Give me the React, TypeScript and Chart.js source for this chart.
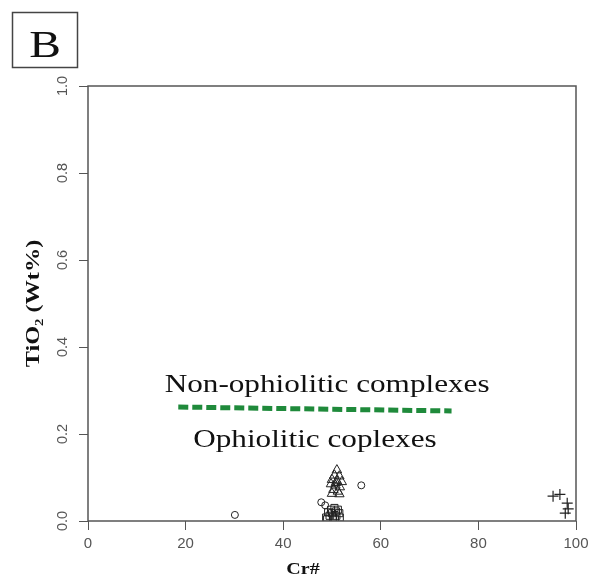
import React, { useEffect, useRef } from "react";
import { Chart, registerables } from "chart.js";

Chart.register(...registerables);

// Axis ticks
const xTicks = [0, 20, 40, 60, 80, 100];
const yTicks = [0, 0.2, 0.4, 0.6, 0.8, 1.0];

// Open circles
const circleX = [30.1, 47.8, 48.6, 56.0];
const circleY = [0.014, 0.043, 0.036, 0.082];

// Open triangles
const triangleX = [51.0, 50.5, 51.5, 50.0, 51.0, 52.0, 49.8, 50.7, 51.6, 50.3, 51.2, 50.0, 51.5, 50.8];
const triangleY = [0.117, 0.105, 0.103, 0.095, 0.092, 0.09, 0.085, 0.082, 0.078, 0.072, 0.068, 0.063, 0.062, 0.088];

// Open squares
const squareX = [48.8, 49.5, 50.2, 50.9, 51.6, 49.2, 50.0, 50.8, 51.5, 49.8, 50.5, 51.2, 49.0, 50.6];
const squareY = [0.008, 0.012, 0.008, 0.012, 0.008, 0.02, 0.018, 0.022, 0.018, 0.026, 0.03, 0.026, 0.004, 0.005];

// Crosses
const crossX = [95.3, 96.7, 98.2, 98.4, 97.8];
const crossY = [0.057, 0.061, 0.041, 0.028, 0.018];

// Boundary line
const boundaryX = [18.5, 74.5];
const boundaryY = [0.262, 0.253];

// Field labels (x centre, y baseline)
const fieldLabels = ["Non-ophiolitic complexes", "Ophiolitic coplexes"];
const fieldLabelX = [49.0, 46.5];
const fieldLabelY = [0.297, 0.17];

const xTitle = "Cr#";
const yTitle = "TiO\u2082 (Wt%)";
const panelLetter = "B";

const pts = (xs: number[], ys: number[]) => xs.map((x, i) => ({ x, y: ys[i] }));

function stretchText(
  ctx: CanvasRenderingContext2D,
  text: string,
  x: number,
  y: number,
  sx: number,
  rot = 0
) {
  ctx.save();
  ctx.translate(x, y);
  if (rot) ctx.rotate(rot);
  ctx.scale(sx, 1);
  ctx.fillText(text, 0, 0);
  ctx.restore();
}

const decorPlugin = {
  id: "decor",
  afterDraw(chart: any) {
    const { ctx, chartArea, scales } = chart;
    const xs = scales.x;
    const ys = scales.y;
    ctx.save();
    // plot box
    ctx.strokeStyle = "#555";
    ctx.lineWidth = 1.5;
    ctx.strokeRect(chartArea.left, chartArea.top, chartArea.right - chartArea.left, chartArea.bottom - chartArea.top);

    // y tick labels (rotated)
    ctx.fillStyle = "#555";
    ctx.font = "14.5px 'Liberation Sans', Arial, sans-serif";
    ctx.textAlign = "center";
    ctx.textBaseline = "middle";
    yTicks.forEach((v) => {
      const py = ys.getPixelForValue(v);
      ctx.save();
      ctx.translate(chartArea.left - 25, py);
      ctx.rotate(-Math.PI / 2);
      ctx.fillText(v.toFixed(1), 0, 0);
      ctx.restore();
    });

    // axis titles
    ctx.fillStyle = "#111";
    ctx.font = "bold 18px 'Liberation Serif', 'Times New Roman', serif";
    ctx.textAlign = "center";
    ctx.textBaseline = "middle";
    stretchText(ctx, yTitle, 34, (chartArea.top + chartArea.bottom) / 2, 1.35, -Math.PI / 2);
    ctx.font = "bold 16px 'Liberation Serif', 'Times New Roman', serif";
    ctx.textBaseline = "alphabetic";
    stretchText(ctx, xTitle, 303, 574, 1.25);

    // field labels
    ctx.font = "26px 'Liberation Serif', 'Times New Roman', serif";
    ctx.textAlign = "center";
    ctx.textBaseline = "alphabetic";
    fieldLabels.forEach((t, i) => {
      stretchText(ctx, t, xs.getPixelForValue(fieldLabelX[i]), ys.getPixelForValue(fieldLabelY[i]), 1.2);
    });

    // panel letter
    ctx.strokeStyle = "#444";
    ctx.lineWidth = 1.5;
    ctx.strokeRect(12.5, 12.5, 65, 55);
    ctx.font = "38px 'Liberation Serif', 'Times New Roman', serif";
    ctx.textAlign = "center";
    stretchText(ctx, panelLetter, 45, 57, 1.25);
    ctx.restore();
  },
};

export default function App() {
  const ref = useRef<HTMLCanvasElement | null>(null);
  useEffect(() => {
    if (!ref.current) return;
    const pointBase = {
      borderColor: "#222",
      backgroundColor: "rgba(0,0,0,0)",
      borderWidth: 1,
      showLine: false,
    };
    const chart = new Chart(ref.current, {
      type: "scatter",
      data: {
        datasets: [
          {
            label: "boundary",
            data: pts(boundaryX, boundaryY),
            showLine: true,
            borderColor: "#1f8a3b",
            borderWidth: 5,
            borderDash: [10, 4],
            pointRadius: 0,
            backgroundColor: "#1f8a3b",
          } as any,
          { ...pointBase, label: "circle", data: pts(circleX, circleY), pointStyle: "circle", pointRadius: 3.5 },
          { ...pointBase, label: "triangle", data: pts(triangleX, triangleY), pointStyle: "triangle", pointRadius: 5.5 },
          { ...pointBase, label: "square", data: pts(squareX, squareY), pointStyle: "rect", pointRadius: 5 },
          { ...pointBase, label: "cross", data: pts(crossX, crossY), pointStyle: "cross", pointRadius: 5.5, borderWidth: 1.2 },
        ],
      },
      options: {
        responsive: false,
        animation: false,
        devicePixelRatio: 1,
        layout: { padding: { top: 86, right: 18, left: 0, bottom: 0 } },
        plugins: { legend: { display: false }, tooltip: { enabled: false } },
        scales: {
          x: {
            type: "linear",
            min: 0,
            max: 100,
            afterBuildTicks: (s: any) => {
              s.ticks = xTicks.map((v) => ({ value: v }));
            },
            afterFit: (s: any) => {
              s.height = 62;
            },
            grid: { drawOnChartArea: false, drawTicks: true, tickLength: 9, color: "#555", lineWidth: 1 },
            border: { display: false },
            ticks: {
              color: "#555",
              padding: 5,
              maxRotation: 0,
              font: { family: "'Liberation Sans', Arial, sans-serif", size: 15 },
              callback: (v: any) => String(v),
            },
          },
          y: {
            type: "linear",
            min: 0,
            max: 1,
            afterBuildTicks: (s: any) => {
              s.ticks = yTicks.map((v) => ({ value: v }));
            },
            afterFit: (s: any) => {
              s.width = 88;
            },
            grid: { drawOnChartArea: false, drawTicks: true, tickLength: 9, color: "#555", lineWidth: 1 },
            border: { display: false },
            ticks: { display: false },
          },
        },
      },
      plugins: [decorPlugin],
    } as any);
    return () => chart.destroy();
  }, []);
  return (
    <div style={{ position: "fixed", left: 0, top: 0, width: 594, height: 583, background: "#fff" }}>
      <canvas ref={ref} width={594} height={583} />
    </div>
  );
}
